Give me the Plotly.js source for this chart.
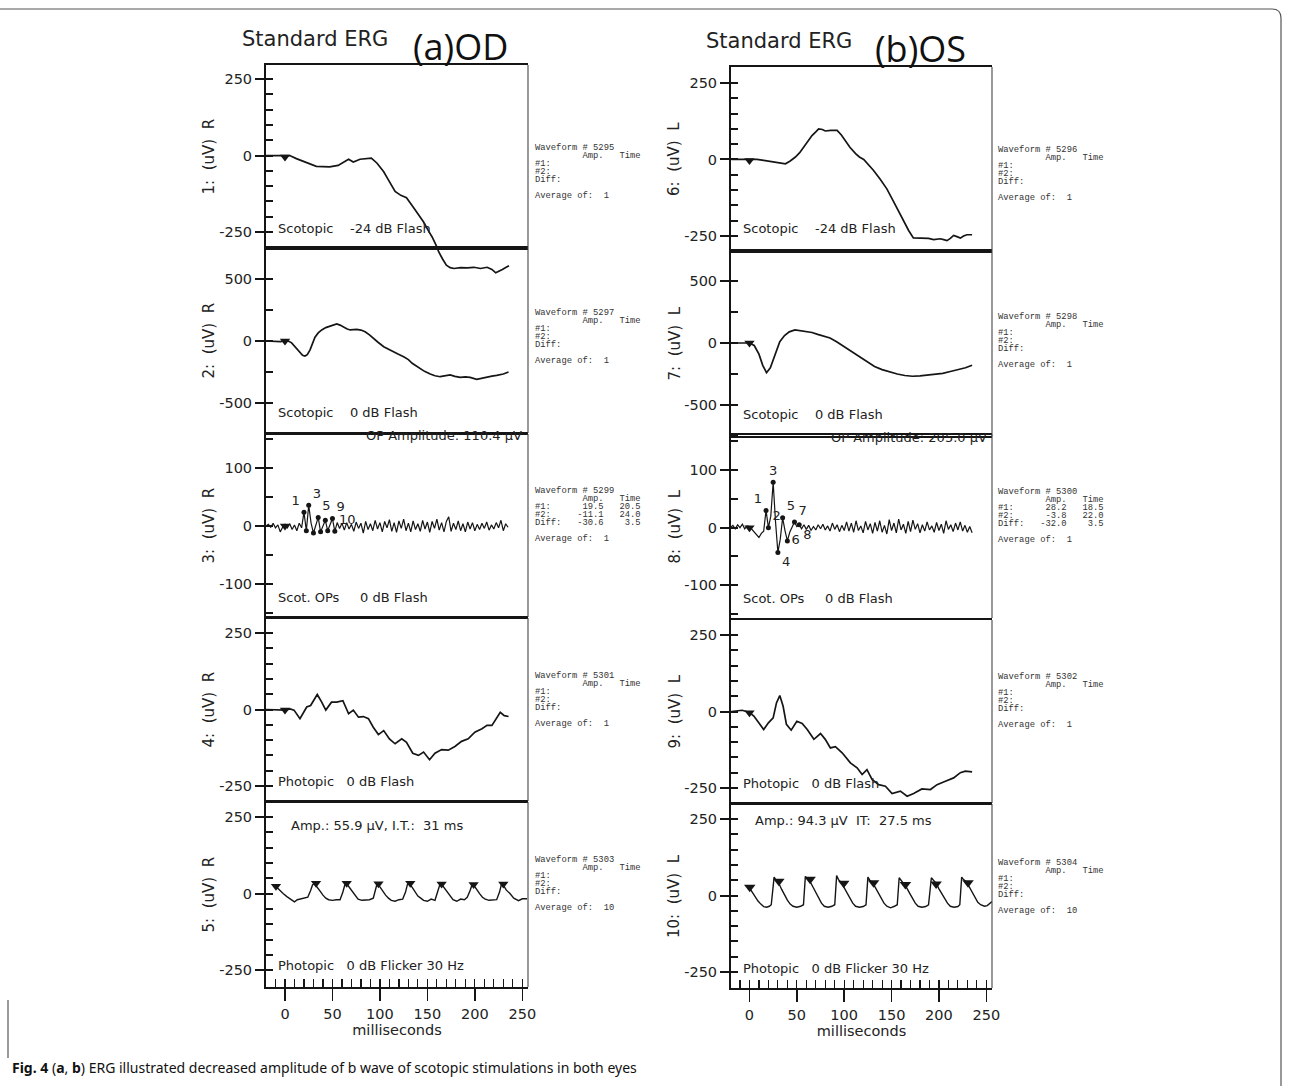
<!DOCTYPE html>
<html><head><meta charset="utf-8">
<script src="https://cdn.plot.ly/plotly-3.0.1.min.js"></script>
<style>html,body{margin:0;padding:0;background:#fff}#chart{width:1289px;height:1086px}</style>
</head><body><div id="chart"></div>
<script>
// ---------------- DATA ----------------
// Panel 1 (OD, Scotopic -24 dB Flash)
const t1 = [-20,-5,0,5,12,21,33,47,56,67,72,79,91,97,104,110,116,122,128,135,141,146,151,155,159,162,166,170,174,178,185,192,199,206,213,218,222,226,229,233,236];
const v1 = [0,0,-2,0,-10,-21,-35,-37,-32,-12,-21,-12,-8,-25,-53,-85,-117,-130,-138,-168,-195,-217,-245,-266,-292,-315,-338,-358,-366,-369,-366,-367,-365,-369,-365,-372,-383,-378,-372,-365,-360];
// Panel 2 (OD, Scotopic 0 dB Flash)
const t2 = [-20,-5,0,3.5,7,10.5,13,15.8,18.5,21,23.5,26.4,29,31.6,35,38.7,43,47.5,51,54.5,58,61.5,65,68.6,72,75.6,80,84.4,89,93,98,104,109,114,119,125,130,134,138,142,147,153,158,163.5,169,174,179,184.6,190,195,202,207,212.8,218,223,230,235.5];
const v2 = [0,-5,0,0,-15,-46,-75,-99,-115,-121,-110,-72,-20,30,65,89,108,121,130,137,128,110,98,89,90,94,88,75,50,22,-10,-46,-68,-86,-105,-127,-150,-180,-200,-220,-245,-266,-280,-288,-282,-274,-285,-293,-290,-293,-309,-300,-288,-283,-277,-266,-250];
// Panels 3 & 8 (Scot. OPs) sample times
const tOP = [-20,-17.5,-15,-12.5,-10,-7.5,-5,-2.5,0,2.5,5,7.5,10,12.5,15,17.5,20,22.5,25,27.5,30,32.5,35,37.5,40,42.5,45,47.5,50,52.5,55,57.5,60,62.5,65,67.5,70,72.5,75,77.5,80,82.5,85,87.5,90,92.5,95,97.5,100,102.5,105,107.5,110,112.5,115,117.5,120,122.5,125,127.5,130,132.5,135,137.5,140,142.5,145,147.5,150,152.5,155,157.5,160,162.5,165,167.5,170,172.5,175,177.5,180,182.5,185,187.5,190,192.5,195,197.5,200,202.5,205,207.5,210,212.5,215,217.5,220,222.5,225,227.5,230,232.5,235];
const v3 = [0,3,-2,5,-3,2,-10,-2,3,-3, 4,-6,2,-8,5,-3,24,-8,36,5, -12,4,15,-10,2,10,-8,3,13,-9, 6,-4,5,-7,6,-5,3,-9,7,-4, 5,-12,8,-6,4,-8,10,-5,6,-10, 8,-3,11,-9,6,-11,9,-4,12,-8, 5,-10,9,-6,4,-9,10,-5,7,-11, 8,-4,12,-7,6,-10,8,16,-9,5, -6,9,-8,4,-10,7,-5,6,-8,3, -6,5,-4,7,-7,2,-5,6,-3,10, -8,4,-2];
const op3T = [20,22.5,25,30,35,37.5,42.5,45,50,52.5];
const op3V = [24,-8,36,-12,15,-10,10,-8,13,-9];
const op3Lbl = ['1','','3','','5','','','','9','10'];
// Panel 4 (OD, Photopic 0 dB Flash)
const t4 = [-20,-7,0,5.3,9.5,15.8,22.9,27,34,38.7,43,49,54.5,61,67,72,77.4,82.6,87.9,93,98.4,104,110,116,123,128,134.6,140.6,146,152.3,158,165,172,179,186,193,200,207.5,212.8,218,221.5,226.8,231,235.5];
const v4 = [0,0,-2,2,-2,-30,8,13,49,24,-2,24,24,29,-14,-2,-25,-23,-30,-58,-82,-69,-96,-112,-96,-107,-143,-150,-139,-164,-143,-131,-133,-121,-104,-96,-74,-63,-52,-52,-36,-9,-20,-23];
// Panel 5 (OD, Photopic 0 dB Flicker 30 Hz)
const t5 = [-10,-6,-2,2,6,10,13,16,20,24,27,29,31,34,37,40,43,46,50,54,58,61,63,65,68,71,74,77,81,85,89,93,95,97,100,103,106,109,112,116,120,124,127,129,131,134,137,140,143,146,150,154,158,161,163,165,168,171,174,177,181,185,189,192,195,197,199,202,205,208,211,215,219,223,226,228,230,233,237,241,246,250,255];
const v5 = [25,12,0,-10,-18,-27,-20,-18,-15,-12,10,28,33,22,8,-5,-15,-20,-22,-20,-20,5,28,32,20,5,-8,-18,-22,-22,-20,-15,10,32,22,8,-5,-15,-22,-25,-20,-18,5,30,33,20,5,-8,-15,-22,-25,-18,-22,5,28,30,18,5,-10,-20,-25,-18,-20,-12,10,28,27,12,0,-12,-18,-22,-20,-20,5,30,28,12,0,-15,-23,-17,-17];
const fl5T = [-9.5,32.7,65,98.5,132,165,198.7,230];
const fl5V = [24,34,34,32,34,31,30,31];
// Panel 6 (OS, Scotopic -24 dB Flash)
const t6 = [-19,0,8,15,22,30,38,43,48.5,53,57,62,66,70,73,77,80,86,92.5,97,101,106,112,116,120.6,126,131,138,145,152,159,164,168,173,178,184,189,194.4,198,201.5,205,208.5,212,215.5,219,222.6,226,229.6,235];
const v6 = [0,0,0,-3,-7,-10,-14,-5,8,22,40,60,78,90,100,98,93,95,95,80,62,40,19,8,0,-18,-36,-65,-96,-137,-178,-208,-232,-256,-257,-256,-258,-262,-260,-259,-262,-265,-258,-248,-252,-257,-250,-246,-246];
// Panel 7 (OS, Scotopic 0 dB Flash)
const t7 = [-19,-10,-3,0,5,10,14,18,22,27,32,37,42,48,54,60,66,72,78,85,92,100,108,116,124,132,140,148,156,164,172,180,188,196,204,212,220,228,235];
const v7 = [0,0,-3,0,-20,-90,-180,-240,-200,-90,10,60,90,105,100,95,85,70,55,40,10,-30,-70,-110,-150,-190,-215,-235,-250,-262,-268,-265,-260,-255,-245,-230,-215,-200,-180];
// Panel 8 (OS, Scot. OPs)
const v8 = [0,4,-2,5,0,6,-2,3,2,-3, -6,-12,-17,-10,-6,30,0,20,79,10, -43,-20,17,-5,-23,-8,0,10,2,5, -2,5,-3,4,-5,2,-4,5,-2,6, -4,3,-6,8,-3,5,-7,4,-5,10, -6,8,-8,12,-5,3,-9,11,-4,7, -10,9,-6,12,-8,4,-11,14,-5,8, -9,15,-4,6,-10,11,-7,13,-3,7, -9,5,-6,10,-4,3,-8,9,-5,6, -10,12,-3,5,-7,8,-4,10,-6,4, -8,2,-9];
const op8T = [17.5,20,25,30,35,40,47.5,52.5];
const op8V = [30,0,79,-43,17,-23,10,5];
const op8Lbl = ['1','2','3','4','5','6','7','8'];
// Panel 9 (OS, Photopic 0 dB Flash)
const t9 = [-19,-7.7,0,4.6,9.8,15,20,25,28.5,32,35.5,39,44,50,55.6,61,68,75,80,85.4,90.7,97.8,106.5,113.6,118.9,124,129.4,136.4,143.5,150.5,159.3,166.4,173.3,182,191,198,206.8,215.5,222.6,227.8,235];
const v9 = [0,4,-3,-15,-37,-59,-37,-21,28,52,17,-42,-61,-32,-39,-59,-91,-72,-91,-119,-115,-135,-168,-184,-206,-190,-222,-239,-244,-268,-260,-277,-268,-253,-255,-239,-228,-217,-200,-195,-197];
// Panel 10 (OS, Photopic 0 dB Flicker 30 Hz)
const t10 = [0,3,6,9,12,15,18,21,23,25,26,28,31,34,37,40,43,46,50,54,57,59,61,64,67,70,73,76,79,83,87,90,92,94,97,100,103,106,109,112,116,120,123,125,127,130,133,136,139,142,145,149,153,156,158,160,163,166,169,172,175,178,182,186,189,192,194,197,200,203,206,209,212,216,220,222,224,226,229,232,235,238,241,244,248,251,254,256];
const v10 = [25,10,-5,-18,-28,-36,-38,-35,-30,50,60,50,40,20,0,-15,-28,-35,-38,-35,-30,62,55,45,28,10,-10,-25,-35,-38,-35,-30,65,52,42,25,5,-12,-25,-35,-38,-36,-30,60,50,42,25,8,-10,-25,-35,-40,-35,-30,58,50,40,25,8,-10,-25,-35,-38,-36,-30,58,50,40,22,5,-12,-25,-35,-38,-36,-30,60,52,45,28,10,-8,-22,-30,-35,-33,-25,-20];
const fl10T = [0.3,31,64,99.5,131,164.6,197,230.7];
const fl10V = [27,47,53,40,42,36,38,42];
// Stimulus markers (panels 1-4, 6-9)
const stimT = [0,0,0,0,0,0,0,0];
const stimV = [-5,0,0,-2,-3,0,0,-4];

// Text content
const yTitles = ['1:  (uV)  R','2:  (uV)  R','3:  (uV)  R','4:  (uV)  R','5:  (uV)  R','6:  (uV)  L','7:  (uV)  L','8:  (uV)  L','9:  (uV)  L','10:  (uV)  L'];
const panelLabels = ['Scotopic    -24 dB Flash','Scotopic    0 dB Flash','Scot. OPs     0 dB Flash','Photopic   0 dB Flash','Photopic   0 dB Flicker 30 Hz',
                     'Scotopic    -24 dB Flash','Scotopic    0 dB Flash','Scot. OPs     0 dB Flash','Photopic   0 dB Flash','Photopic   0 dB Flicker 30 Hz'];
const waveformNo = ['5295','5297','5299','5301','5303','5296','5298','5300','5302','5304'];
const averageOf = ['1','1','1','1','10','1','1','1','1','10'];
const opRows3 = [['19.5','20.5'],['-11.1','24.0'],['-30.6','3.5']];
const opRows8 = [['28.2','18.5'],['-3.8','22.0'],['-32.0','3.5']];
const opAmpText = ['OP Amplitude: 110.4 µV','OP Amplitude: 205.0 µV'];
const flickerText = ['Amp.: 55.9 µV, I.T.:  31 ms','Amp.: 94.3 µV  IT:  27.5 ms'];
const headTitles = ['Standard ERG','Standard ERG'];
const eyeTitles = ['(a)OD','(b)OS'];
const caption = '<b>Fig. 4</b> (<b>a</b>, <b>b</b>) ERG illustrated decreased amplitude of b wave of scotopic stimulations in both eyes';

const yTick = {
  s250:{vals:[-250,0,250], text:['-250','0','250'], minor:[-250,-200,-150,-100,-50,0,50,100,150,200,250]},
  s500:{vals:[-500,0,500], text:['-500','0','500'], minor:[-750,-500,-250,0,250,500,750]},
  s100:{vals:[-100,0,100], text:['-100','0','100'], minor:[-150,-100,-50,0,50,100,150]}
};
const xTickVals = [0,50,100,150,200,250];
const xTickText = ['0','50','100','150','200','250'];
const xMinorVals = [-10,0,10,20,30,40,50,60,70,80,90,100,110,120,130,140,150,160,170,180,190,200,210,220,230,240,250];

// ---------------- LAYOUT ----------------
const W=1289,H=1086;
const px=x=>x/W, py=y=>1-y/H;
const nb=s=>s.replace(/ /g,'\u00A0');
const colDom={L:[266,528],R:[731,992]};
const xRange={L:[-20,256],R:[-19.5,256]};
const P=[
 {col:'L',top:65, bot:248,range:[-302,296],sc:'s250'},
 {col:'L',top:248,bot:433,range:[-742,750],sc:'s500'},
 {col:'L',top:434,bot:617,range:[-157,159],sc:'s100'},
 {col:'L',top:618,bot:801,range:[-299,299],sc:'s250'},
 {col:'L',top:802,bot:987,range:[-305,299],sc:'s250',bottom:true},
 {col:'R',top:67, bot:251,range:[-299,302],sc:'s250'},
 {col:'R',top:251,bot:436,range:[-750,742],sc:'s500'},
 {col:'R',top:435,bot:618,range:[-157,161],sc:'s100'},
 {col:'R',top:620,bot:803,range:[-299,299],sc:'s250'},
 {col:'R',top:804,bot:988,range:[-302,299],sc:'s250',bottom:true}
];
const INK='#151515', TXT='#222';
const sans='DejaVu Sans, Arial, sans-serif';
const layout={width:W,height:H,margin:{l:0,r:0,t:0,b:0},paper_bgcolor:'#fff',plot_bgcolor:'rgba(0,0,0,0)',
  showlegend:false,annotations:[],shapes:[]};

P.forEach((p,i)=>{
  const n=i+1, xs=n===1?'':n, ys=n===1?'':n;
  const ts=yTick[p.sc];
  const xa={domain:[px(colDom[p.col][0]),px(colDom[p.col][1])],range:xRange[p.col],anchor:'y'+ys,
    showline:true,mirror:true,linecolor:INK,linewidth:2.2,zeroline:false,showgrid:false,fixedrange:true};
  if(p.bottom){
    Object.assign(xa,{tickmode:'array',tickvals:xTickVals,ticktext:xTickText,ticks:'outside',ticklen:12,tickwidth:1.5,tickcolor:INK,
      tickfont:{family:sans,size:14.5,color:TXT},
      minor:{tickmode:'array',tickvals:xMinorVals,ticks:'inside',ticklen:8,tickwidth:1.2,tickcolor:INK},
      title:{text:'milliseconds',font:{family:sans,size:14.5,color:TXT},standoff:2}});
  } else {
    Object.assign(xa,{ticks:'',showticklabels:false});
  }
  layout['xaxis'+xs]=xa;
  layout['yaxis'+ys]={domain:[py(p.bot),py(p.top)],range:p.range,anchor:'x'+xs,showline:true,linecolor:INK,linewidth:2,
    zeroline:false,showgrid:false,fixedrange:true,tickmode:'array',tickvals:ts.vals,ticktext:ts.text,
    ticks:'outside',ticklen:9,tickwidth:2,tickcolor:INK,tickfont:{family:sans,size:14.5,color:TXT},
    minor:{tickmode:'array',tickvals:ts.minor,ticks:'inside',ticklen:7,tickwidth:2,tickcolor:INK}};
  // right border
  layout.shapes.push({type:'line',xref:'x'+xs+' domain',yref:'y'+ys+' domain',x0:1,x1:1,y0:0,y1:1,line:{color:'#444',width:1.1}});
  // y title
  const yc=(p.top+p.bot)/2;
  layout.annotations.push({text:nb(yTitles[i]),xref:'paper',yref:'paper',x:px(p.col==='L'?208:674),y:py(yc),textangle:-90,
    showarrow:false,xanchor:'center',yanchor:'middle',font:{family:sans,size:15,color:TXT}});
});
// overlay axis for panel 1 (trace runs below its frame)
{
  const p=P[0]; const s=(p.bot-p.top)/(p.range[1]-p.range[0]); const ext=300;
  layout.yaxis11={domain:[py(ext),py(p.top)],range:[p.range[0]-(ext-p.bot)/s,p.range[1]],anchor:'x',visible:false,fixedrange:true};
}

// panel labels
const labelPos=[[276,228],[276,413],[276,597],[276,781],[276,965],[741,229],[741,414],[741,598],[741,783],[741,968]];
panelLabels.forEach((s,i)=>layout.annotations.push({text:nb(s),xref:'paper',yref:'paper',x:px(labelPos[i][0]),y:py(labelPos[i][1]),
  xanchor:'left',yanchor:'middle',showarrow:false,font:{family:sans,size:13,color:TXT}}));
// flicker amp / OP amplitude
layout.annotations.push({text:nb(flickerText[0]),xref:'paper',yref:'paper',x:px(289),y:py(826),xanchor:'left',yanchor:'middle',showarrow:false,font:{family:sans,size:13,color:TXT}});
layout.annotations.push({text:nb(flickerText[1]),xref:'paper',yref:'paper',x:px(753),y:py(820),xanchor:'left',yanchor:'middle',showarrow:false,font:{family:sans,size:13,color:TXT}});
layout.annotations.push({text:nb(opAmpText[0]),xref:'paper',yref:'paper',x:px(524),y:py(435),xanchor:'right',yanchor:'middle',showarrow:false,font:{family:sans,size:13,color:TXT}});
layout.annotations.push({text:nb(opAmpText[1]),xref:'paper',yref:'paper',x:px(989),y:py(437),xanchor:'right',yanchor:'middle',showarrow:false,font:{family:sans,size:13,color:TXT}});
// titles
layout.annotations.push({text:headTitles[0],xref:'paper',yref:'paper',x:px(315),y:py(39),xanchor:'center',yanchor:'middle',showarrow:false,font:{family:sans,size:21,color:TXT}});
layout.annotations.push({text:headTitles[1],xref:'paper',yref:'paper',x:px(779),y:py(41),xanchor:'center',yanchor:'middle',showarrow:false,font:{family:sans,size:21,color:TXT}});
layout.annotations.push({text:eyeTitles[0],xref:'paper',yref:'paper',x:px(460),y:py(46),xanchor:'center',yanchor:'middle',showarrow:false,font:{family:'Open Sans, sans-serif',size:36,color:'#111'}});
layout.annotations.push({text:eyeTitles[1],xref:'paper',yref:'paper',x:px(920),y:py(48),xanchor:'center',yanchor:'middle',showarrow:false,font:{family:'Open Sans, sans-serif',size:36,color:'#111'}});
// monospaced waveform info blocks
const blockTop=[148,313,491,676,860,150,317,492,677,863];
const monoFont={family:'Liberation Mono, DejaVu Sans Mono, monospace',size:8.8,color:'#333'};
function row(lbl,vals){return lbl.padEnd(8)+(vals?vals[0].padStart(5)+vals[1].padStart(7):'');}
waveformNo.forEach((w,i)=>{
  const ops = i===2?opRows3:(i===7?opRows8:null);
  const lines=['Waveform # '+w,'         Amp.   Time',row('#1:',ops&&ops[0]),row('#2:',ops&&ops[1]),row('Diff:',ops&&ops[2]),'','Average of:  '+averageOf[i]];
  const xx=i<5?533:996;
  lines.forEach((ln,k)=>{ if(!ln.trim()) return;
    layout.annotations.push({text:nb(ln.replace(/\s+$/,'')),xref:'paper',yref:'paper',x:px(xx),y:py(blockTop[i]+k*8),xanchor:'left',yanchor:'middle',showarrow:false,font:monoFont});
  });
});
// caption
layout.annotations.push({text:caption,xref:'paper',yref:'paper',x:px(10),y:py(1067),xanchor:'left',yanchor:'middle',showarrow:false,font:{family:'Noto Sans, Open Sans, sans-serif',size:14,color:'#111'}});
// outer frame
layout.shapes.push({type:'path',xref:'paper',yref:'paper',
  path:`M ${px(0)},${py(9)} L ${px(1272)},${py(9)} Q ${px(1281)},${py(9)} ${px(1281)},${py(18)} L ${px(1281)},${py(1086)}`,
  line:{color:'#555',width:1.2}});
layout.shapes.push({type:'line',xref:'paper',yref:'paper',x0:px(8),x1:px(8),y0:py(1000),y1:py(1058),line:{color:'#555',width:1.2}});

// ---------------- TRACES ----------------
const traces=[];
const series=[[t1,v1],[t2,v2],[tOP,v3],[t4,v4],[t5,v5],[t6,v6],[t7,v7],[tOP,v8],[t9,v9],[t10,v10]];
series.forEach((s,i)=>{
  const n=i+1, xs=n===1?'':n;
  const flick = (n===5||n===10);
  traces.push({x:s[0],y:s[1],xaxis:'x'+xs,yaxis:n===1?'y11':'y'+xs,mode:'lines',
    line:{color:INK,width:flick?1.4:(n===3||n===8?1.2:1.7)},hoverinfo:'skip'});
});
// stimulus markers
const stimPanels=[1,2,3,4,6,7,8,9];
stimPanels.forEach((n,k)=>{
  const xs=n===1?'':n;
  traces.push({x:[stimT[k]],y:[stimV[k]],xaxis:'x'+xs,yaxis:'y'+xs,mode:'markers',cliponaxis:false,
    marker:{symbol:'triangle-down',size:9,color:INK},hoverinfo:'skip'});
});
traces.push({x:fl5T,y:fl5V,xaxis:'x5',yaxis:'y5',mode:'markers',marker:{symbol:'triangle-down',size:9,color:INK},hoverinfo:'skip'});
traces.push({x:fl10T,y:fl10V,xaxis:'x10',yaxis:'y10',mode:'markers',marker:{symbol:'triangle-down',size:10,color:INK},hoverinfo:'skip'});
// OP peak markers with labels
traces.push({x:op3T,y:op3V,text:op3Lbl,xaxis:'x3',yaxis:'y3',mode:'markers+text',
  textposition:['top left','top right','top right','top right','top right','top right','top right','top right','top right','top right'],cliponaxis:false,
  marker:{symbol:'circle',size:5,color:INK},textfont:{family:sans,size:13,color:TXT},hoverinfo:'skip'});
traces.push({x:op8T,y:op8V,text:op8Lbl,xaxis:'x8',yaxis:'y8',mode:'markers+text',
  textposition:['top left','top right','top center','bottom right','top right','middle right','top right','bottom right'],cliponaxis:false,
  marker:{symbol:'circle',size:5,color:INK},textfont:{family:sans,size:13,color:TXT},hoverinfo:'skip'});

Plotly.newPlot('chart',traces,layout,{displayModeBar:false,staticPlot:true});
</script></body></html>
